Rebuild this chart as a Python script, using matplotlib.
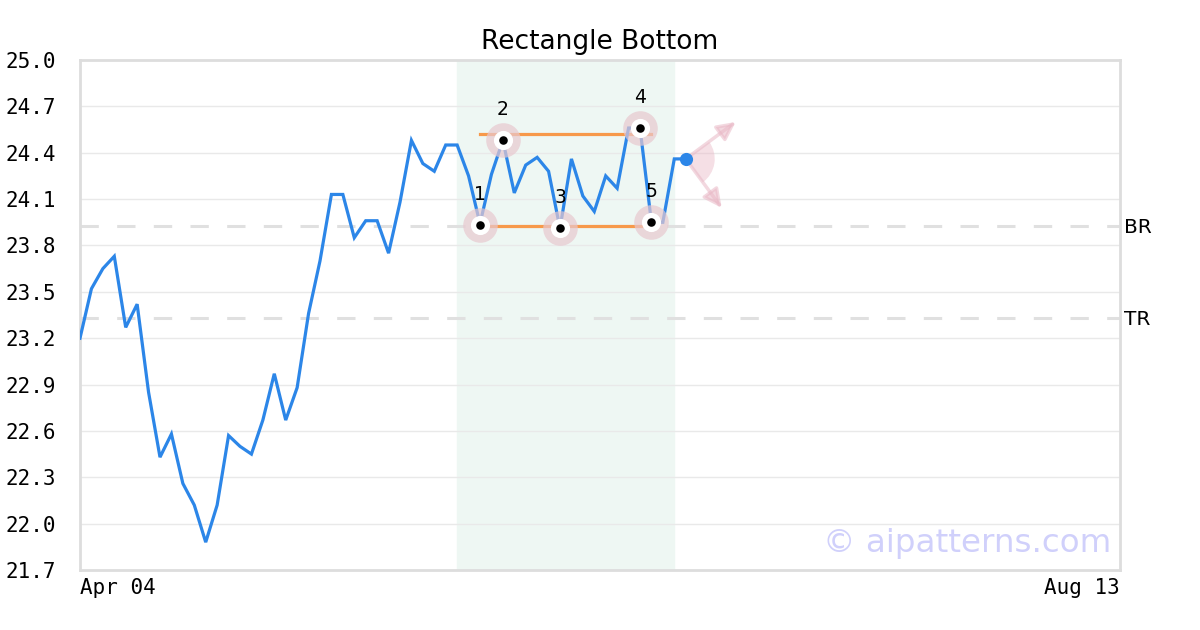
import matplotlib
matplotlib.use("Agg")
import matplotlib.pyplot as plt
import numpy as np
from matplotlib.patches import Wedge

# price series (one value per bar, index based x axis)
prices = [23.20, 23.52, 23.65, 23.73, 23.27, 23.42, 22.85, 22.43, 22.58, 22.26,
          22.12, 21.88, 22.12, 22.57, 22.50, 22.45, 22.67, 22.97, 22.67, 22.88,
          23.36, 23.70, 24.13, 24.13, 23.85, 23.96, 23.96, 23.75, 24.08, 24.48,
          24.33, 24.28, 24.45, 24.45, 24.25, 23.94, 24.26, 24.48, 24.14, 24.32,
          24.37, 24.28, 23.91, 24.36, 24.12, 24.02, 24.25, 24.17, 24.56, 24.56,
          23.95, 23.95, 24.36, 24.36]

# pattern points
pt_idx = [35, 37, 42, 49, 50]
pt_val = [23.935, 24.48, 23.91, 24.56, 23.95]
pt_lbl = ["1", "2", "3", "4", "5"]

top_level = 24.52
bottom_level = 23.925
rect_x = [35, 50]
zone = [33, 52]

br_level = 23.926
tr_level = 23.33

x_end = 91
x_ticklabels = ["Apr 04", "Aug 13"]
y_ticks = [21.7, 22.0, 22.3, 22.6, 22.9, 23.2, 23.5, 23.8, 24.1, 24.4, 24.7, 25.0]

fig = plt.figure(figsize=(12, 6.3), dpi=100)
ax = fig.add_axes([80/1200, 60/630, 1040/1200, 510/630])

x = np.arange(len(prices))

# shaded pattern zone
ax.axvspan(zone[0], zone[1], color='#eef7f3', zorder=0)

# grid
for t in y_ticks:
    ax.axhline(t, color='#e9e9e9', lw=1, zorder=1)

# BR / TR dashed levels
for lvl, name in [(br_level, "BR"), (tr_level, "TR")]:
    ax.axhline(lvl, color='#e0e0e0', lw=2.2, dashes=(6, 6), zorder=1)
    ax.text(1.004, lvl - 0.01, name, transform=ax.get_yaxis_transform(), ha='left', va='center',
            fontsize=14.5, color='black')

# price line
ax.plot(x, prices, color='#2c86e8', lw=2.3, zorder=3, solid_joinstyle='miter')

# rectangle lines
ax.plot(rect_x, [top_level, top_level], color='#f7994a', lw=2.3, zorder=2)
ax.plot(rect_x, [bottom_level, bottom_level], color='#f7994a', lw=2.3, zorder=2)

# pattern points
ax.scatter(pt_idx, pt_val, s=620, color='#e8c8cf', alpha=0.7, zorder=4, lw=0)
ax.scatter(pt_idx, pt_val, s=190, color='white', zorder=5, lw=0)
ax.scatter(pt_idx, pt_val, s=38, color='black', zorder=6, lw=0)
for i, v, l in zip(pt_idx, pt_val, pt_lbl):
    ax.annotate(l, (i, v), xytext=(0, 22), textcoords='offset points',
                ha='center', va='center', fontsize=13.5)

# last price dot
ax.scatter([x[-1]], [prices[-1]], s=90, color='#2c86e8', zorder=7, lw=0)

# projection arrows and wedge
ax.set_xlim(0, x_end)
ax.set_ylim(21.7, 25.0)
px0 = ax.transData.transform((x[-1], prices[-1]))
pink = '#e9b8c6'
for dx, dy in [(50, 37), (36, -49)]:
    end = ax.transData.inverted().transform((px0[0] + dx, px0[1] + dy))
    ax.annotate('', xy=end, xytext=(x[-1], prices[-1]),
                arrowprops=dict(arrowstyle='-|>,head_length=1.1,head_width=0.55',
                                color=pink, lw=2.5, alpha=0.55, shrinkA=0, shrinkB=0), zorder=5)
wedge = Wedge(px0, 29, -54, 36, transform=None, color=pink, alpha=0.45, lw=0, zorder=5)
ax.add_artist(wedge)

# axes styling
for s in ax.spines.values():
    s.set_color('#dddddd')
    s.set_linewidth(2)
ax.set_yticks(y_ticks)
ax.set_yticklabels([f"{t:.1f}" for t in y_ticks], family='DejaVu Sans Mono', fontsize=15)
ax.set_xticks([0, x_end])
ax.set_xticklabels(x_ticklabels, family='DejaVu Sans Mono', fontsize=15)
ax.get_xticklabels()[0].set_ha('left')
ax.get_xticklabels()[1].set_ha('right')
ax.tick_params(length=0)
ax.tick_params(axis='x', pad=6)
ax.tick_params(axis='y', pad=17)

ax.set_title("Rectangle Bottom", fontsize=19, pad=8)

ax.text(0.992, 0.052, "© aipatterns.com", transform=ax.transAxes, ha='right', va='center',
        fontsize=23.4, color='#d0d0fb')

fig.savefig("out.png", dpi=100, facecolor='white')
